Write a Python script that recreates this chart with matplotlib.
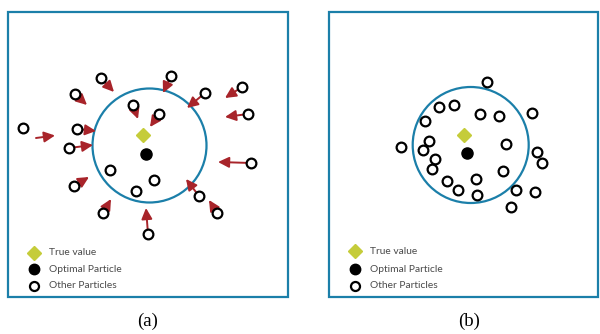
import matplotlib
matplotlib.use("Agg")
import matplotlib.pyplot as plt
from matplotlib.patches import Rectangle, Circle

# ---------------- data (pixel coordinates of the reference) ----------------
# Panel (a)
a_box = (8, 12, 288, 297)
a_circle = (149.5, 145.5, 57)
a_true = (143, 135)
a_opt = (145.5, 154)
a_px = [101, 171, 75, 205, 242, 133, 159, 248, 23, 77, 69, 251, 110, 154, 136, 74, 199, 103, 217, 148]
a_py = [78, 76, 94, 93, 87, 105, 114, 114, 128, 129, 148, 163, 170, 180, 191, 186, 196, 213, 213, 234]
# arrows: tail (particle centre) -> head
arr_tx = [101, 171, 75, 205, 242, 133, 159, 248, 77, 69, 251, 74, 199, 103, 217, 148]
arr_ty = [78, 76, 94, 93, 87, 105, 114, 114, 129, 148, 163, 186, 196, 213, 213, 234]
arr_hx = [114, 163, 87, 187, 225, 138, 150, 225, 96, 93, 218, 89, 186, 111, 209, 146]
arr_hy = [92, 93, 105, 108, 98, 119, 127, 117, 131, 145, 162, 177, 179, 199, 200, 208]
# detached arrow
free_tail = (36, 138)
free_head = (55, 135.5)

# Panel (b)
b_box = (329, 12, 598, 297)
b_circle = (470.7, 145, 58)
b_true = (464.3, 135)
b_opt = (467, 153.3)
b_px = [486.7, 439.3, 454, 480, 499.3, 531.7, 425, 429, 400.7, 423.3, 506.3, 537, 435,
        541.7, 431.7, 502.7, 447.3, 476.3, 458, 476.7, 516, 535, 511.3]
b_py = [82, 107, 105, 114, 116, 113, 121, 141, 147, 150, 144, 152, 159,
        163, 169, 171, 181, 179, 190, 195, 190, 192, 207]

legend_labels = ["True value", "Optimal Particle", "Other Particles"]
a_leg = (33.5, 49, [252.5, 269, 285.5])
b_leg = (354.5, 370, [251, 269, 286])
panel_labels = ["(a)", "(b)"]
panel_label_x = [148, 469]
panel_label_y = 321

# ---------------- styles ----------------
BLUE = "#1b7fa9"
RED = "#a8242a"
YEL = "#c5cc3a"
TXT = "#4a4a4a"

fig = plt.figure(figsize=(6.0, 3.34), dpi=100)
ax = fig.add_axes([0, 0, 1, 1])
ax.set_xlim(0, 600)
ax.set_ylim(334, 0)
ax.axis("off")

def open_circles(xs, ys):
    ax.plot(xs, ys, "o", ls="none", ms=7.0, mfc="white", mec="black", mew=1.6, zorder=4)

def panel(box, circ, true, opt, leg):
    x0, y0, x1, y1 = box
    ax.add_patch(Rectangle((x0, y0), x1 - x0, y1 - y0, fill=False, ec=BLUE, lw=1.6, zorder=1))
    cx, cy, r = circ
    ax.add_patch(Circle((cx, cy), r, fill=False, ec=BLUE, lw=1.6, zorder=2))
    ax.plot([true[0]], [true[1]], "D", ms=7.5, mfc=YEL, mec=YEL, zorder=5)
    ax.plot([opt[0]], [opt[1]], "o", ms=8.0, mfc="black", mec="black", zorder=5)
    mx, tx, ys = leg
    ax.plot([mx], [ys[0]], "D", ms=7.0, mfc=YEL, mec=YEL, zorder=5)
    ax.plot([mx], [ys[1]], "o", ms=7.5, mfc="black", mec="black", zorder=5)
    ax.plot([mx], [ys[2]], "o", ms=6.5, mfc="white", mec="black", mew=1.6, zorder=5)
    for lab, y in zip(legend_labels, ys):
        ax.text(tx, y, lab, fontsize=7.4, family="Lato", color=TXT, va="center", ha="left")

panel(a_box, a_circle, a_true, a_opt, a_leg)
panel(b_box, b_circle, b_true, b_opt, b_leg)
open_circles(a_px, a_py)
open_circles(b_px, b_py)

aprops = dict(arrowstyle="-|>,head_length=0.65,head_width=0.32", color=RED, lw=1.4,
              shrinkA=3.5, shrinkB=0)
for tx_, ty_, hx_, hy_ in zip(arr_tx, arr_ty, arr_hx, arr_hy):
    ax.annotate("", xy=(hx_, hy_), xytext=(tx_, ty_), arrowprops=aprops, zorder=3)
fprops = dict(aprops, shrinkA=0)
ax.annotate("", xy=free_head, xytext=free_tail, arrowprops=fprops, zorder=3)

for lab, x in zip(panel_labels, panel_label_x):
    ax.text(x, panel_label_y, lab, fontsize=13.5, family="Liberation Serif", color="black",
            ha="center", va="center")

fig.savefig("out.png", dpi=100)
